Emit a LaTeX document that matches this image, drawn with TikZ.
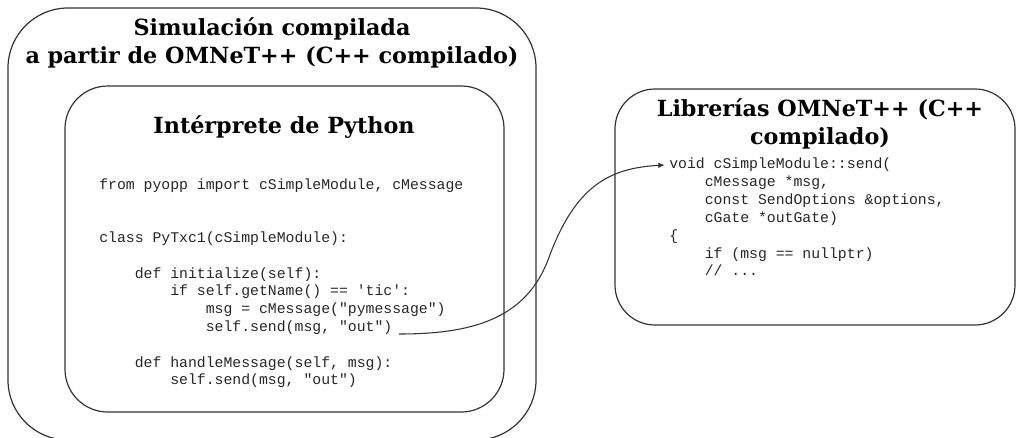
\documentclass[tikz,border=0pt]{standalone}
\usepackage{fontspec}
\usetikzlibrary{positioning}
\usetikzlibrary{calc}
\usetikzlibrary{arrows.meta}
\newfontfamily\titlefont{DejaVu Serif}
\newfontfamily\codefont{Liberation Mono}
\newcommand{\ind}[1]{\hspace*{#1\dimexpr 0.6em\relax}}
\newcommand{\sq}{\textquotesingle}
\newcommand{\dq}{\textquotedbl}

\tikzset{
  box/.style={draw=black!80, line width=0.9pt},
  title/.style={font=\titlefont\bfseries\fontsize{16.7}{20.3}\selectfont, align=center, inner sep=0pt},
  code/.style={font=\codefont\fontsize{11.1}{13.35}\selectfont, align=left, inner sep=0pt, text=black!85},
}

\begin{document}
\begin{tikzpicture}[x=0.75pt, y=-0.75pt]

    \clip (0, 0) rectangle (1017, 437);

    % Simulacion (outer box)
    \draw[box, rounded corners=45pt] (8, 8) rectangle (536, 440);
    \node[title, anchor=base] (simTitle) at (272, 63) {Simulación compilada\\a partir de OMNeT++ (C++ compilado)};

    % Interprete (inner box)
    \draw[box, rounded corners=32pt] (65, 86) rectangle (504, 412);
    \node[title, anchor=base] (pyTitle) at (284, 133) {Intérprete de Python};

    \node[code, anchor=north west] (pyCode) at (99, 178) {%
      from pyopp import cSimpleModule, cMessage\\
      \mbox{}\\
      \mbox{}\\
      class PyTxc1(cSimpleModule):\\
      \mbox{}\\
      \ind{4}def initialize(self):\\
      \ind{8}if self.getName() == \sq tic\sq:\\
      \ind{12}msg = cMessage(\dq pymessage\dq)\\
      \ind{12}self.send(msg, \dq out\dq)\\
      \mbox{}\\
      \ind{4}def handleMessage(self, msg):\\
      \ind{8}self.send(msg, \dq out\dq)};

    % Librerias (right box)
    \draw[box, rounded corners=30pt] (615, 89) rectangle (1015, 325);
    \node[title, anchor=base] (libTitle) at (820, 144) {Librerías OMNeT++ (C++\\compilado)};

    \node[code, anchor=north west] (cppCode) at (669, 158) {%
      void cSimpleModule::send(\\
      \ind{4}cMessage *msg,\\
      \ind{4}const SendOptions \&options,\\
      \ind{4}cGate *outGate)\\
      \{\\
      \ind{4}if (msg == nullptr)\\
      \ind{4}// ...};

    % send call
    \coordinate (sendOut) at (399, 334);
    \coordinate (sendIn) at ($(cppCode.north west) + (-4, 7)$);
    \draw[black!80, line width=0.8pt, -{Latex[length=5pt, width=4pt]}]
      (sendOut) .. controls (470, 334) and (525, 320) .. (548, 260)
                .. controls (575, 185) and (610, 168) .. (sendIn);

\end{tikzpicture}
\end{document}
